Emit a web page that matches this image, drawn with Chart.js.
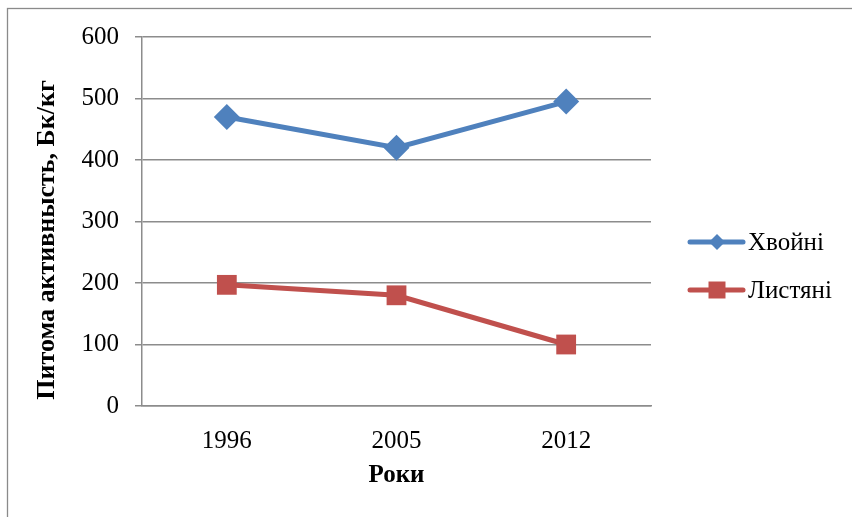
<!DOCTYPE html>
<html>
<head>
<meta charset="utf-8">
<script src="https://cdn.jsdelivr.net/npm/chart.js@4/dist/chart.umd.min.js"></script>
<style>
  html, body { margin: 0; padding: 0; background: #fff; }
  #wrap { width: 852px; height: 517px; position: relative; }
</style>
</head>
<body>
<div id="wrap"><canvas id="c" width="852" height="517"></canvas></div>
<script>
// Years of measurement
const years = ['1996', '2005', '2012'];
// Specific activity, Bq/kg
const coniferous = [470, 420, 495];
const deciduous = [197, 180, 100];
const seriesNames = ['Хвойні', 'Листяні'];
const yTicks = [0, 100, 200, 300, 400, 500, 600];
const xTitle = 'Роки';
const yTitle = 'Питома активнысть, Бк/кг';

const FONT = '"Liberation Serif", "Times New Roman", serif';
const BLUE = '#4F81BD';
const RED = '#C0504D';
const GRID = '#8c8c8c';

// Outer frame of the chart object
const framePlugin = {
  id: 'frame',
  beforeDraw(chart) {
    const ctx = chart.ctx;
    ctx.save();
    ctx.fillStyle = '#fff';
    ctx.fillRect(0, 0, chart.width, chart.height);
    ctx.strokeStyle = '#8a8a8a';
    ctx.lineWidth = 1.3;
    ctx.strokeRect(7.5, 8.5, chart.width + 20, chart.height + 20);
    ctx.restore();
  }
};

// Axis titles placed like the office-style chart layout
const titlesPlugin = {
  id: 'axisTitles',
  afterDraw(chart) {
    const ctx = chart.ctx;
    const area = chart.chartArea;
    ctx.save();
    ctx.fillStyle = '#000';
    ctx.font = 'bold 25px ' + FONT;
    ctx.textAlign = 'center';
    ctx.textBaseline = 'middle';
    ctx.fillText(xTitle, (area.left + area.right) / 2, 476);
    ctx.translate(47, 240);
    ctx.rotate(-Math.PI / 2);
    ctx.font = 'bold 26px ' + FONT;
    ctx.fillText(yTitle, 0, 0);
    ctx.restore();
  }
};

// Legend on the right: line sample with marker, then series name
const legendPlugin = {
  id: 'sideLegend',
  afterDraw(chart) {
    const ctx = chart.ctx;
    const rows = [242, 290];
    ctx.save();
    chart.data.datasets.forEach((ds, i) => {
      const y = rows[i];
      ctx.strokeStyle = ds.borderColor;
      ctx.lineWidth = 5;
      ctx.lineCap = 'round';
      ctx.beginPath();
      ctx.moveTo(690, y);
      ctx.lineTo(743, y);
      ctx.stroke();
      ctx.fillStyle = ds.backgroundColor;
      ctx.beginPath();
      if (ds.pointStyle === 'rectRot') {
        const r = 8;
        ctx.moveTo(717, y - r);
        ctx.lineTo(717 + r, y);
        ctx.lineTo(717, y + r);
        ctx.lineTo(717 - r, y);
        ctx.closePath();
      } else {
        ctx.rect(717 - 8.5, y - 8.5, 17, 17);
      }
      ctx.fill();
      ctx.fillStyle = '#000';
      ctx.font = '25px ' + FONT;
      ctx.textAlign = 'left';
      ctx.textBaseline = 'middle';
      ctx.fillText(ds.label, 748, y + 1);
    });
    ctx.restore();
  }
};

new Chart(document.getElementById('c'), {
  type: 'line',
  data: {
    labels: years,
    datasets: [
      {
        label: seriesNames[0],
        data: coniferous,
        borderColor: BLUE,
        backgroundColor: BLUE,
        borderWidth: 5,
        pointStyle: 'rectRot',
        pointRadius: 13,
        pointHoverRadius: 13,
        pointBorderWidth: 0,
        tension: 0
      },
      {
        label: seriesNames[1],
        data: deciduous,
        borderColor: RED,
        backgroundColor: RED,
        borderWidth: 5,
        pointStyle: 'rect',
        pointRadius: 14,
        pointHoverRadius: 14,
        pointBorderWidth: 0,
        tension: 0
      }
    ]
  },
  options: {
    responsive: false,
    animation: false,
    events: [],
    layout: { padding: { top: 37, right: 201, left: 0, bottom: 0 } },
    plugins: {
      legend: { display: false },
      tooltip: { enabled: false }
    },
    scales: {
      x: {
        offset: true,
        grid: { display: false },
        border: { display: true, color: GRID, width: 1.5 },
        ticks: { color: '#000', font: { family: FONT, size: 25 }, padding: 12 },
        afterFit(s) { s.height = 111; }
      },
      y: {
        min: 0,
        max: 600,
        afterBuildTicks(s) { s.ticks = yTicks.map(v => ({ value: v })); },
        grid: { color: GRID, lineWidth: 1.5, tickLength: 7 },
        border: { display: true, color: GRID, width: 1.5 },
        ticks: { color: '#000', font: { family: FONT, size: 25 }, padding: 16 },
        afterFit(s) { s.width = 142; }
      }
    }
  },
  plugins: [framePlugin, titlesPlugin, legendPlugin]
});
</script>
</body>
</html>
